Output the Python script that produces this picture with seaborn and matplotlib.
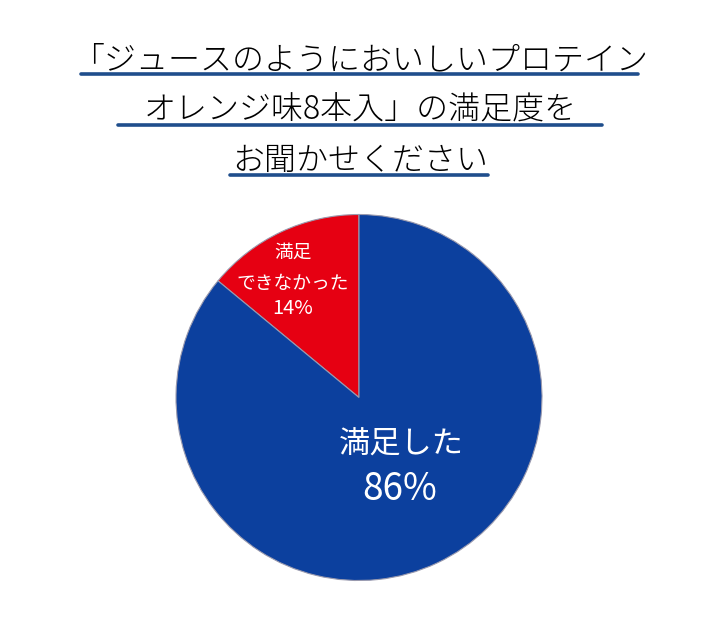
import matplotlib
matplotlib.use("Agg")
import matplotlib.pyplot as plt
import seaborn as sns
from matplotlib.lines import Line2D

# ---- data ----
categories = ["満足\nできなかった", "満足した"]
shares = [14, 86]
colors = ["#E60012", "#0C409E"]
title_lines = ["「ジュースのようにおいしいプロテイン", "オレンジ味8本入」の満足度を", "お聞かせください"]

sns.set_theme(style="white")
plt.rcParams['font.family'] = ['Noto Sans CJK JP', 'DejaVu Sans']

W, H = 720, 627
fig = plt.figure(figsize=(W / 100, H / 100), dpi=100)
fig.patch.set_facecolor("white")

# pie axes: centre (359, 397.5) px, radius 183 px
cx, cy, r = 359, 397.5, 183
ax = fig.add_axes([(cx - r) / W, (H - cy - r) / H, 2 * r / W, 2 * r / H])
ax.pie(shares, colors=colors, startangle=90, counterclock=True, radius=1,
       wedgeprops=dict(edgecolor="#9a9aae", linewidth=0.8))
ax.set_xlim(-1, 1)
ax.set_ylim(-1, 1)
ax.set_aspect("equal")
ax.axis("off")

def px2data(x, y):
    return (x - cx) / r, (cy - y) / r

# small (red) label
red_lines = categories[0].split("\n") + [f"{shares[0]}%"]
for txt, ypx, fs in zip(red_lines, [252, 284, 309], [13.5, 13.5, 14.5]):
    x, y = px2data(293, ypx)
    ax.text(x, y, txt, color="white", fontsize=fs, ha="center", va="center")

# big (blue) label
blue_lines = [categories[1], f"{shares[1]}%"]
for txt, ypx, xpx, fs in zip(blue_lines, [445, 489], [401, 400], [22.5, 26.5]):
    x, y = px2data(xpx, ypx)
    ax.text(x, y, txt, color="white", fontsize=fs, ha="center", va="center")

# title with underlines
ul_y = [74, 124.5, 175]
ul_x = [(81, 638), (118, 602), (230, 488)]
for line, uy, (x0, x1) in zip(title_lines, ul_y, ul_x):
    fig.text(360 / W, 1 - (uy - 14) / H, line, fontsize=23, color="#000000",
             ha="center", va="center", fontweight="light")
    fig.add_artist(Line2D([x0 / W, x1 / W], [1 - uy / H, 1 - uy / H],
                          color="#1F4E8C", linewidth=2.6, transform=fig.transFigure))

fig.savefig("out.png", dpi=100, facecolor="white")
